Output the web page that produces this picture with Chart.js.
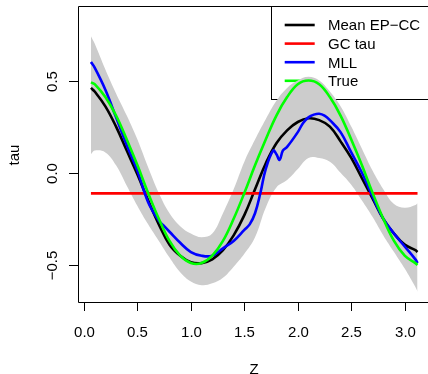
<!DOCTYPE html>
<html>
<head>
<meta charset="utf-8">
<script src="https://cdn.jsdelivr.net/npm/chart.js@4.4.1/dist/chart.umd.min.js"></script>
<style>
  html, body { margin: 0; padding: 0; background: #fff; overflow: hidden; }
  canvas { display: block; }
</style>
</head>
<body>
<canvas id="tauChart" width="428" height="374"></canvas>
<script>
// grid of Z values shared by the band, the mean and the true curve
const zGrid = [0.065, 0.1, 0.2, 0.3, 0.4, 0.5, 0.6, 0.7, 0.8, 0.9, 1.0, 1.1, 1.2, 1.3, 1.4, 1.5, 1.6,
  1.7, 1.8, 1.9, 2.0, 2.1, 2.2, 2.3, 2.4, 2.5, 2.6, 2.7, 2.8, 2.9, 3.0, 3.1, 3.12]

const bandUpper = [0.74, 0.70, 0.56, 0.43, 0.31, 0.18, 0.03, -0.11, -0.22, -0.29, -0.33, -0.35, -0.33,
  -0.22, -0.09, 0.06, 0.18, 0.29, 0.39, 0.46, 0.50, 0.52, 0.50, 0.44, 0.36, 0.25, 0.13, 0.01, -0.09,
  -0.17, -0.19, -0.175, -0.165]

const bandLower = [0.10, 0.12, 0.11, 0.04, -0.07, -0.18, -0.28, -0.37, -0.46, -0.54, -0.59, -0.61, -0.60,
  -0.57, -0.51, -0.44, -0.35, -0.19, -0.08, -0.04, 0.02, 0.08, 0.08, 0.06, 0.0, -0.065, -0.15, -0.24,
  -0.34, -0.43, -0.52, -0.62, -0.645]

const meanEpcc = [0.46, 0.44, 0.36, 0.25, 0.12, -0.01, -0.15, -0.28, -0.39, -0.45, -0.485, -0.49, -0.47,
  -0.42, -0.34, -0.23, -0.09, 0.05, 0.16, 0.23, 0.275, 0.295, 0.285, 0.25, 0.17, 0.08, -0.03, -0.14,
  -0.25, -0.33, -0.39, -0.42, -0.43]

const trueTau = [0.49, 0.48, 0.41, 0.31, 0.18, 0.04, -0.11, -0.25, -0.37, -0.45, -0.49, -0.49, -0.45,
  -0.37, -0.25, -0.11, 0.04, 0.18, 0.31, 0.41, 0.48, 0.50, 0.48, 0.41, 0.31, 0.18, 0.04, -0.11, -0.25,
  -0.37, -0.45, -0.49, -0.50]

// MLL estimate is rougher, so it has its own Z values
const mllZ = [0.065, 0.1, 0.2, 0.3, 0.4, 0.5, 0.6, 0.7, 0.75, 0.8, 0.9, 1.0, 1.1, 1.2, 1.3, 1.4, 1.5, 1.55,
  1.6, 1.65, 1.7, 1.77, 1.8, 1.83, 1.86, 1.9, 2.0, 2.05, 2.1, 2.15, 2.2, 2.25, 2.3, 2.4, 2.5, 2.6, 2.7,
  2.8, 2.9, 3.0, 3.1, 3.12]
const mllTau = [0.60, 0.57, 0.45, 0.30, 0.15, 0.01, -0.16, -0.26, -0.29, -0.32, -0.38, -0.43, -0.45, -0.45,
  -0.41, -0.37, -0.31, -0.28, -0.22, -0.11, 0.02, 0.12, 0.10, 0.07, 0.12, 0.14, 0.22, 0.27, 0.30, 0.315,
  0.32, 0.31, 0.285, 0.22, 0.11, 0.0, -0.13, -0.25, -0.33, -0.40, -0.47, -0.49]

const gcZ = [0.065, 3.12]
const gcTau = [-0.112, -0.112]

const xTicks = [0, 0.5, 1, 1.5, 2, 2.5, 3]
const yTicks = [-0.5, 0, 0.5]
const legendLabels = ['Mean EP\u2212CC', 'GC tau', 'MLL', 'True']
const legendColors = ['#000000', '#ff0000', '#0000ff', '#00ff00']

const FONT = '15px "Liberation Sans", Arial, sans-serif'

function toPoints(xs, ys) {
  return xs.map((v, i) => ({ x: v, y: ys[i] }))
}

function fmt(v) {
  const s = v.toFixed(1)
  return v < 0 ? '\u2212' + s.slice(1) : s
}

// legend box goes in first: the band and the curves are painted over it
const rLegend = {
  id: 'rLegend',
  beforeDatasetsDraw(chart) {
    const ctx = chart.ctx
    const lx = 271.5
    const ly = 6.5
    ctx.save()
    ctx.fillStyle = '#fff'
    ctx.fillRect(lx, ly, chart.width - lx, 93)
    ctx.strokeStyle = '#000'
    ctx.lineWidth = 1
    ctx.strokeRect(lx, ly, chart.width - lx + 5, 93)
    ctx.font = FONT
    ctx.textAlign = 'left'
    ctx.textBaseline = 'alphabetic'
    legendLabels.forEach((label, i) => {
      const rowY = 25 + i * 18.6
      ctx.strokeStyle = legendColors[i]
      ctx.lineWidth = 2.6
      ctx.beginPath()
      ctx.moveTo(284.7, rowY)
      ctx.lineTo(314.7, rowY)
      ctx.stroke()
      ctx.fillStyle = '#000'
      ctx.fillText(label, 328, rowY + 5.4)
    })
    ctx.restore()
  }
}

// box, ticks and axis titles, R-style
const rFrame = {
  id: 'rFrame',
  afterDatasetsDraw(chart) {
    const ctx = chart.ctx
    const sx = chart.scales.x
    const sy = chart.scales.y
    const area = chart.chartArea

    ctx.save()
    ctx.strokeStyle = '#000'
    ctx.lineWidth = 1
    ctx.beginPath()
    ctx.moveTo(chart.width, area.top + 0.5)
    ctx.lineTo(area.left + 0.5, area.top + 0.5)
    ctx.lineTo(area.left + 0.5, area.bottom + 0.5)
    ctx.lineTo(chart.width, area.bottom + 0.5)
    ctx.stroke()

    ctx.fillStyle = '#000'
    ctx.font = FONT
    ctx.textAlign = 'center'
    ctx.textBaseline = 'alphabetic'

    xTicks.forEach(v => {
      const px = Math.round(sx.getPixelForValue(v)) + 0.5
      ctx.beginPath()
      ctx.moveTo(px, area.bottom)
      ctx.lineTo(px, area.bottom + 9)
      ctx.stroke()
      ctx.fillText(fmt(v), px, 337)
    })

    yTicks.forEach(v => {
      const py = Math.round(sy.getPixelForValue(v)) + 0.5
      ctx.beginPath()
      ctx.moveTo(area.left - 9, py)
      ctx.lineTo(area.left, py)
      ctx.stroke()
      ctx.save()
      ctx.translate(56.7, py)
      ctx.rotate(-Math.PI / 2)
      ctx.fillText(fmt(v), 0, 0)
      ctx.restore()
    })

    ctx.fillText('Z', 254, 373.5)
    ctx.save()
    ctx.translate(19, 155)
    ctx.rotate(-Math.PI / 2)
    ctx.fillText('tau', 0, 0)
    ctx.restore()
    ctx.restore()
  }
}

const lineStyle = {
  fill: false,
  pointRadius: 0,
  borderWidth: 2.6,
  tension: 0.4
}

new Chart(document.getElementById('tauChart'), {
  type: 'line',
  data: {
    datasets: [
      { ...lineStyle, label: 'True', data: toPoints(zGrid, trueTau), borderColor: '#00ff00', order: 0 },
      { ...lineStyle, label: 'MLL', data: toPoints(mllZ, mllTau), borderColor: '#0000ff', order: 1 },
      { ...lineStyle, label: 'GC tau', data: toPoints(gcZ, gcTau), borderColor: '#ff0000', order: 2 },
      { ...lineStyle, label: 'Mean EP-CC', data: toPoints(zGrid, meanEpcc), borderColor: '#000000', order: 3 },
      {
        label: 'band upper', data: toPoints(zGrid, bandUpper), order: 4,
        borderWidth: 0, pointRadius: 0, tension: 0.4,
        backgroundColor: '#cccccc', fill: '+1'
      },
      {
        label: 'band lower', data: toPoints(zGrid, bandLower), order: 5,
        borderWidth: 0, pointRadius: 0, tension: 0.4, fill: false
      }
    ]
  },
  options: {
    responsive: false,
    animation: false,
    devicePixelRatio: 1,
    events: [],
    layout: { padding: { left: 78, top: 6, right: 0, bottom: 72 } },
    scales: {
      x: { type: 'linear', min: -0.056, max: 3.218, display: false },
      y: { type: 'linear', min: -0.701, max: 0.904, display: false }
    },
    plugins: {
      legend: { display: false },
      tooltip: { enabled: false }
    }
  },
  plugins: [rLegend, rFrame]
})
</script>
</body>
</html>
